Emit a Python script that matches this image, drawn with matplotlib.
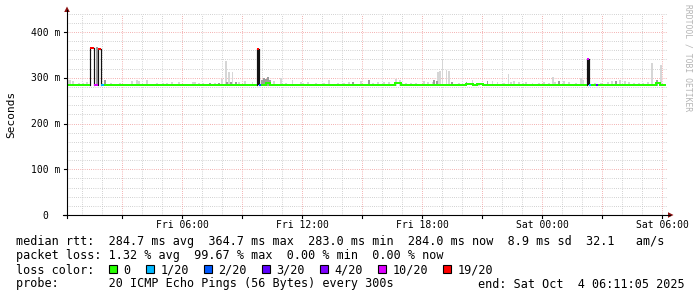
import matplotlib
matplotlib.use('Agg')
import matplotlib.pyplot as plt
from matplotlib.patches import Rectangle, Polygon

# ---------------- data ----------------
t_start, t_end = 0.25, 30.18          # hours since Fri 00:00
base_median = 284.0                   # ms
# (start_h, end_h, median_ms, loss_index)
median_overrides = [
    (1.40, 1.60, 365, 6),
    (1.60, 1.80, 284, 5),
    (1.80, 1.95, 363, 6),
    (1.95, 2.10, 284, 1),
    (9.75, 9.85, 362, 6),
    (9.85, 9.95, 284, 2),
    (10.20, 10.40, 289, 0),
    (16.65, 16.95, 288, 0),
    (20.20, 20.55, 287, 0),
    (20.75, 21.05, 287, 0),
    (26.25, 26.35, 342, 5),
    (26.35, 26.45, 284, 1),
    (26.70, 26.80, 284, 3),
    (29.70, 29.90, 289, 0),
]
smoke_hours = [0.30, 0.40, 0.55, 0.85, 2.45, 2.90, 3.50, 3.75, 3.85, 4.25, 4.75, 5.50, 5.85,
               6.55, 6.65, 6.85, 7.65, 8.00, 8.20, 8.35, 8.53, 8.85, 9.15, 9.53, 10.60, 10.95,
               11.20, 11.53, 11.95, 12.30, 12.70, 13.10, 13.35, 13.80, 14.10, 14.95, 15.80,
               16.10, 16.35, 16.70, 16.90, 17.20, 17.70, 18.10, 18.30, 18.80, 18.90, 19.03,
               19.23, 19.35, 19.85, 20.53, 20.85, 21.53, 21.78, 22.10, 22.33, 22.45, 22.60,
               22.85, 23.20, 23.53, 23.85, 24.10, 24.35, 24.55, 25.10, 25.35, 25.70, 25.95,
               26.05, 26.95, 27.30, 27.50, 27.90, 28.15, 28.60, 29.05, 29.50, 29.95,
               1.05, 1.25, 5.05, 5.25, 7.05, 12.05, 14.35, 15.55, 17.45, 18.55, 21.05,
               23.05, 24.65, 26.65, 28.35, 28.85, 29.30]
smoke_tops = [295, 294, 292, 289, 289, 289, 293, 294, 292, 294, 288, 291, 290,
              291, 290, 288, 288, 298, 337, 312, 312, 291, 292, 290, 292, 300,
              288, 295, 290, 291, 288, 288, 295, 288, 288, 292, 290,
              290, 290, 297, 295, 288, 288, 292, 290, 312, 315, 339,
              318, 315, 288, 295, 288, 292, 290, 288, 308, 290, 292,
              290, 290, 288, 288, 290, 288, 302, 292, 290, 288, 300,
              295, 288, 290, 292, 295, 292, 288, 288, 332, 328,
              289, 290, 289, 288, 289, 289, 290, 289, 289, 291, 289,
              289, 290, 289, 291, 289, 290]
dark_hours = [1.75, 2.15, 7.40, 7.85, 8.25, 8.45, 8.70, 10.00, 10.10, 10.20, 10.30, 10.40,
              14.55, 15.35, 18.60, 18.75, 19.50, 20.23, 21.28, 24.85, 27.70, 29.75]
dark_tops = [368, 294, 288, 289, 290, 290, 290, 296, 300, 298, 302, 296,
             290, 295, 295, 292, 290, 290, 292, 292, 292, 295]
smoke_bottom = 283

loss_labels = ['0', '1/20', '2/20', '3/20', '4/20', '10/20', '19/20']
loss_colors = ['#26ff00', '#00b8ff', '#0059ff', '#5e00ff', '#7e00ff', '#dd00ff', '#ff0000']

x_tick_hours = [6, 12, 18, 24, 30]
x_tick_labels = ['Fri 06:00', 'Fri 12:00', 'Fri 18:00', 'Sat 00:00', 'Sat 06:00']
y_tick_values = [0, 100, 200, 300, 400]
y_tick_labels = ['0', '100 m', '200 m', '300 m', '400 m']

median_stats = [284.7, 364.7, 283.0, 284.0, 8.9]
am_per_s = 32.1
loss_stats = [1.32, 99.67, 0.00, 0.00]
probe_text = "20 ICMP Echo Pings (56 Bytes) every 300s"
end_text = "end: Sat Oct  4 06:11:05 2025"

# ---------------- figure ----------------
W, H = 697, 297
MONO = 'DejaVu Sans Mono'
fig = plt.figure(figsize=(W / 100, H / 100), dpi=100)
fig.patch.set_facecolor('white')
L, R, B, T = 67, 667, 215, 13.7
ax = fig.add_axes([L / W, 1 - B / H, (R - L) / W, (B - T) / H])
ax.set_xlim(0.25, 30.25)
ax.set_ylim(0, 440)
ax.axis('off')

ov = fig.add_axes([0, 0, 1, 1], zorder=5)
ov.set_xlim(0, W)
ov.set_ylim(H, 0)
ov.axis('off')
ov.patch.set_alpha(0)

# grid
dot = (0, (0.72, 1.44))
minor_c, major_c = '#c4c4c4', '#f09a9a'
for h in range(1, 31):
    if h % 3:
        ax.axvline(h, color=minor_c, lw=0.72, ls=dot, zorder=1)
for v in range(20, 441, 20):
    if v % 100:
        ax.axhline(v, color=minor_c, lw=0.72, ls=dot, zorder=1)
for h in range(3, 31, 3):
    ax.axvline(h, color=major_c, lw=0.72, ls=dot, zorder=1.5)
for v in range(100, 401, 100):
    ax.axhline(v, color=major_c, lw=0.72, ls=dot, zorder=1.5)

# smoke
step = 1 / 12
ax.bar(smoke_hours, [t - smoke_bottom for t in smoke_tops], bottom=smoke_bottom,
       width=step, color='#d6d6d6', linewidth=0, align='center', zorder=2)
ax.bar(dark_hours, [t - smoke_bottom for t in dark_tops], bottom=smoke_bottom,
       width=step, color='#9c9c9c', linewidth=0, align='center', zorder=2.5)

# median line
segs = []
t = t_start
for s, e, v, l in sorted(median_overrides):
    if s > t:
        segs.append((t, s, base_median, 0))
    segs.append((s, e, v, l))
    t = e
if t < t_end:
    segs.append((t, t_end, base_median, 0))

for i, (s, e, v, l) in enumerate(segs):
    if v - base_median > 20 and (e - s) <= 0.12:
        # narrow loss spike: solid dark column
        ax.bar((s + e) / 2, v - base_median, bottom=base_median, width=e - s,
               color='#151515', linewidth=0, zorder=3)
    if i > 0:
        pv = segs[i - 1][2]
        if abs(pv - v) > 20:
            ax.plot([s, s], [min(pv, v), max(pv, v)], color='#111111', lw=0.85, zorder=3)
        elif pv != v:
            ax.plot([s, s], [pv, v], color=loss_colors[0], lw=1.44, zorder=3)
for s, e, v, l in segs:
    ax.plot([s, e], [v, v], color=loss_colors[l], lw=1.44, solid_capstyle='butt', zorder=4)

# axes lines and arrows
ov.plot([63, 670], [215, 215], color='black', lw=0.8)
ov.plot([67, 67], [218, 10], color='black', lw=0.8)
ov.add_patch(Polygon([[67, 6.5], [64.2, 12], [69.8, 12]], closed=True, color='#8b1010', lw=0))
ov.add_patch(Polygon([[673.5, 215], [668, 212.2], [668, 217.8]], closed=True, color='#8b1010', lw=0))
for h in range(3, 31, 3):
    px = L + (h - 0.25) * 20
    ov.plot([px, px], [215, 218], color='black', lw=0.8)
for v in y_tick_values:
    py = B - v * (B - T) / 440
    ov.plot([64, 67], [py, py], color='black', lw=0.8)

# tick labels
for h, lab in zip(x_tick_hours, x_tick_labels):
    px = L + (h - 0.25) * 20
    ov.text(px, 227.8, lab, ha='center', va='baseline', family=MONO, fontsize=7, color='#000000')
for v, lab in zip(y_tick_values, y_tick_labels):
    py = B - v * (B - T) / 440
    if v == 0:
        ov.text(45, py + 3.6, lab, ha='center', va='baseline', family=MONO, fontsize=7)
    else:
        ov.text(60, py + 3.6, lab, ha='right', va='baseline', family=MONO, fontsize=7)

ov.text(11, 114, 'Seconds', rotation=90, ha='center', va='center', family=MONO, fontsize=8)
ov.text(688, 4, 'RRDTOOL / TOBI OETIKER', rotation=-90, ha='center', va='top',
        family=MONO, fontsize=5.8, color='#b4b4b4')

# legend text
fs = 8.5
line1 = ("median rtt:  %.1f ms avg  %.1f ms max  %.1f ms min  %.1f ms now  %.1f ms sd  %.1f   am/s"
         % (*median_stats, am_per_s))
line2 = ("packet loss: %.2f %% avg  %.2f %% max  %.2f %% min  %.2f %% now" % tuple(loss_stats))
ov.text(16, 245.5, line1, ha='left', va='baseline', family=MONO, fontsize=fs)
ov.text(16, 259.5, line2, ha='left', va='baseline', family=MONO, fontsize=fs)
ov.text(16, 273.5, 'loss color:', ha='left', va='baseline', family=MONO, fontsize=fs)
box_x = [108.5, 146, 203.5, 262, 320, 378, 443]
for bx, lab, col in zip(box_x, loss_labels, loss_colors):
    ov.add_patch(Rectangle((bx, 265), 8, 8, facecolor=col, edgecolor='black', lw=0.8))
    ov.text(bx + 14.5, 273.5, lab, ha='left', va='baseline', family=MONO, fontsize=fs)
ov.text(16, 287.5, 'probe:       ' + probe_text, ha='left', va='baseline', family=MONO, fontsize=fs)
ov.text(478, 287.5, end_text, ha='left', va='baseline', family=MONO, fontsize=fs)

fig.savefig('out.png', dpi=100)
